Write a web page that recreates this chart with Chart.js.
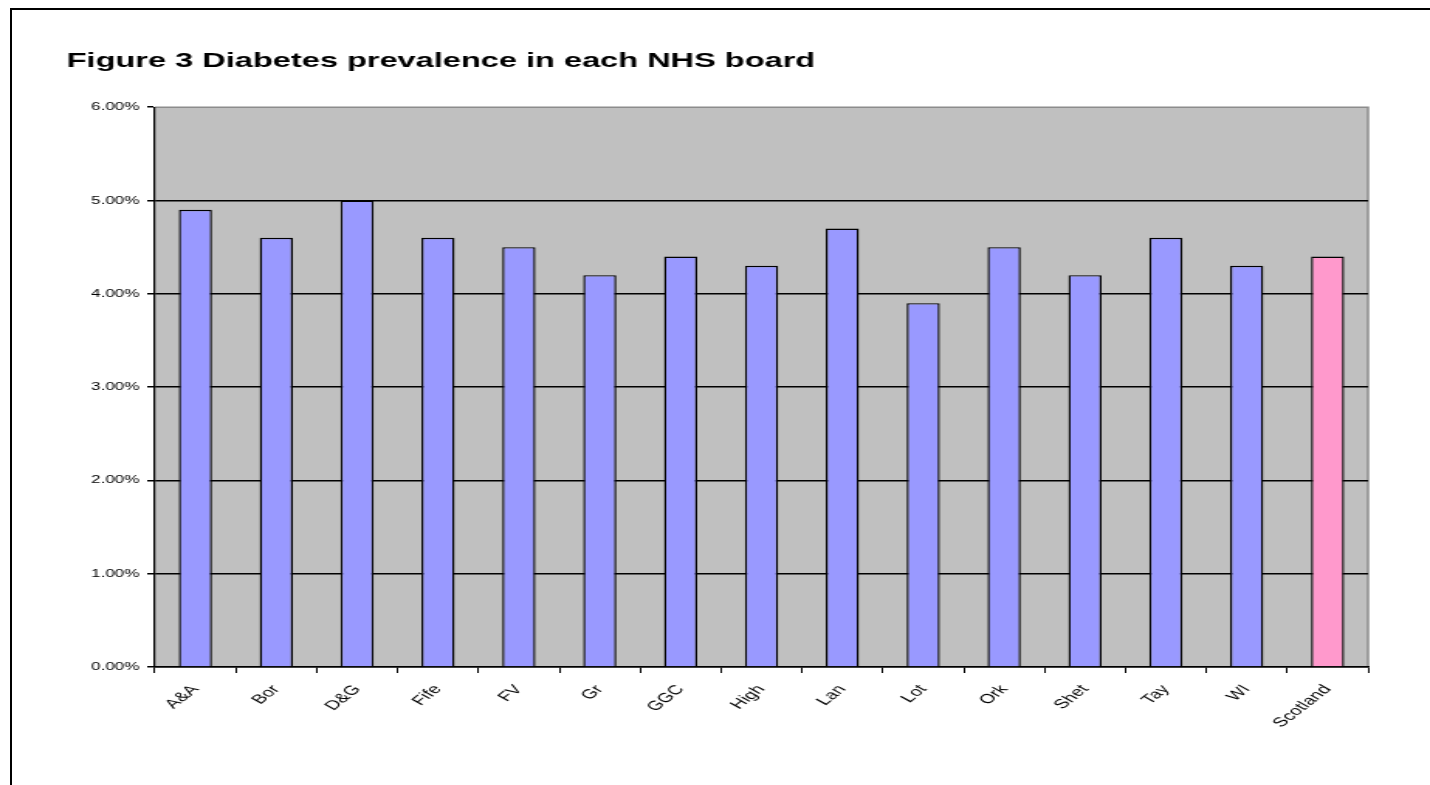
<!DOCTYPE html>
<html lang="en">
<head>
    <meta charset="UTF-8">
    <title>Figure 3 Diabetes prevalence in each NHS board</title>
    <script src="https://cdn.jsdelivr.net/npm/chart.js"></script>
    <style>
        html, body { margin: 0; padding: 0; background: #fff; overflow: hidden; }
        body { width: 1430px; height: 785px; position: relative; }
        /* cropped frame round the original figure */
        #frame { position: absolute; left: 10px; top: 8px; width: 1500px; height: 900px;
                 border-top: 2px solid #000; border-left: 2px solid #000; }
        /* the original picture is stretched sideways, so the chart is drawn narrow and widened */
        #wrap { position: absolute; left: 0; top: 0; width: 923px; height: 785px;
                transform: scaleX(1.5493); transform-origin: 0 0; }
    </style>
</head>
<body>
    <div id="frame"></div>
    <div id="wrap"><canvas id="prevChart"></canvas></div>

    <script>
        // NHS boards and diabetes prevalence (%)
        const boards = ['A&A', 'Bor', 'D&G', 'Fife', 'FV', 'Gr', 'GGC', 'High', 'Lan', 'Lot', 'Ork', 'Shet', 'Tay', 'WI', 'Scotland'];
        const prevalence = [4.9, 4.6, 5.0, 4.6, 4.5, 4.2, 4.4, 4.3, 4.7, 3.9, 4.5, 4.2, 4.6, 4.3, 4.4];
        const yMin = 0, yMax = 6, yStep = 1;

        const fontFamily = "'Liberation Sans', Arial, sans-serif";

        // grey plot area, with a grey line on top and right
        const plotBackground = {
            id: 'plotBackground',
            beforeDraw(chart) {
                const { ctx, chartArea: a } = chart;
                ctx.save();
                ctx.fillStyle = '#c0c0c0';
                ctx.fillRect(a.left, a.top, a.right - a.left, a.bottom - a.top);
                ctx.strokeStyle = '#8c8c8c';
                ctx.lineWidth = 1.5;
                ctx.beginPath();
                ctx.moveTo(a.left, a.top);
                ctx.lineTo(a.right, a.top);
                ctx.lineTo(a.right, a.bottom);
                ctx.stroke();
                ctx.restore();
            }
        };

        const ctx = document.getElementById('prevChart').getContext('2d');
        new Chart(ctx, {
            type: 'bar',
            data: {
                labels: boards,
                datasets: [{
                    data: prevalence,
                    backgroundColor: boards.map(b => b === 'Scotland' ? '#ff99cc' : '#9999ff'),
                    borderColor: '#000',
                    borderWidth: 1.4,
                    barPercentage: 0.41,
                    categoryPercentage: 1
                }]
            },
            options: {
                responsive: true,
                maintainAspectRatio: false,
                animation: false,
                layout: { padding: { left: 43, right: 40, top: 0, bottom: 0 } },
                plugins: {
                    legend: { display: false },
                    tooltip: { enabled: false },
                    title: {
                        display: true,
                        text: 'Figure 3 Diabetes prevalence in each NHS board',
                        align: 'start',
                        color: '#000',
                        font: { family: fontFamily, size: 21, weight: 'bold' },
                        padding: { top: 49, bottom: 33 }
                    }
                },
                scales: {
                    x: {
                        offset: true,
                        afterFit: s => { s.height = 118; },
                        grid: {
                            offset: true,
                            drawOnChartArea: false,
                            drawTicks: true,
                            tickLength: 6,
                            tickColor: '#000',
                            tickWidth: 1
                        },
                        border: { display: true, color: '#000', width: 1.5 },
                        ticks: {
                            color: '#000',
                            font: { family: fontFamily, size: 13 },
                            minRotation: 50,
                            maxRotation: 50,
                            autoSkip: false,
                            padding: 9
                        }
                    },
                    y: {
                        min: yMin,
                        max: yMax,
                        afterFit: s => { s.width = 57; },
                        grid: {
                            color: c => c.tick && c.tick.value === yMax ? 'rgba(0,0,0,0)' : '#000',
                            lineWidth: 1.5,
                            tickColor: '#000',
                            tickLength: 5
                        },
                        border: { display: true, color: '#000', width: 1.2 },
                        ticks: {
                            stepSize: yStep,
                            color: '#000',
                            font: { family: fontFamily, size: 11 },
                            padding: 5,
                            callback: v => v.toFixed(2) + '%'
                        }
                    }
                }
            },
            plugins: [plotBackground]
        });
    </script>
</body>
</html>
